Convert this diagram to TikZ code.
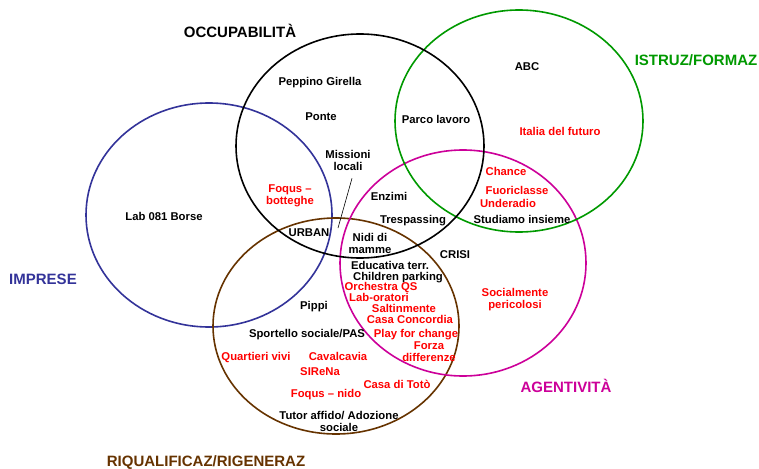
\documentclass[tikz,border=0pt]{standalone}
\usepackage{fontspec}
\setmainfont{Liberation Sans}
\usepackage{tikz}
\usetikzlibrary{calc}
\definecolor{occcol}{RGB}{0,0,0}
\definecolor{istrcol}{RGB}{0,153,0}
\definecolor{imprcol}{RGB}{51,51,153}
\definecolor{agencol}{RGB}{204,0,153}
\definecolor{riqucol}{RGB}{102,51,0}
\definecolor{redtxt}{RGB}{255,0,0}
\tikzset{
x=1pt,
y=-1pt,
venn/.style={line width=1.6pt},
item/.style={%
    anchor=base,
    inner sep=0pt,
    align=center,
    text=black,
    font=\bfseries\fontsize{11.3}{12}\selectfont
},
hot/.style={item, text=redtxt},
title/.style={%
    anchor=base,
    inner sep=0pt,
    font=\bfseries\fontsize{15}{18}\selectfont
},
pointer/.style={line width=0.6pt, draw=black},
}

\begin{document}
\begin{tikzpicture}
			\useasboundingbox (0,0) rectangle (759,468);
			% the five sets
			\draw[venn, imprcol] (209,215) ellipse [x radius=123pt, y radius=112pt];
			\draw[venn, riqucol] (336,326) ellipse [x radius=123pt, y radius=108pt];
			\draw[venn, agencol] (463,263) ellipse [x radius=123pt, y radius=113pt];
			\draw[venn, istrcol] (519,121) ellipse [x radius=124pt, y radius=111pt];
			\draw[venn, occcol] (360,146) ellipse [x radius=124pt, y radius=112pt];

			\node[title, text=occcol] (occ) at (240,38) {OCCUPABILITÀ};
			\node[title, text=istrcol] (istr) at (696,66) {ISTRUZ/FORMAZ};
			\node[title, text=imprcol] (impr) at (43,284) {IMPRESE};
			\node[title, text=agencol] (agen) at (566,392) {AGENTIVITÀ};
			\node[title, text=riqucol] (riqu) at (206,466) {RIQUALIFICAZ/RIGENERAZ};

			% multi-line nodes sit on the baseline of their last line
			\node[item] (peppino) at (320,85) {Peppino Girella};
			\node[item] (ponte) at (321,121) {Ponte};
			\node[item] (parco) at (436,124) {Parco lavoro};
			\node[item] (abc) at (527,71) {ABC};
			\node[hot] (italia) at (560,135) {Italia del futuro};
			\node[item] (missioni) at (348,170) {Missioni\\locali};
			\node[hot] (foqusb) at (290,204) {Foqus --\\botteghe};
			\node[item] (enzimi) at (389,200) {Enzimi};
			\node[item] (tresp) at (413,223) {Trespassing};
			\node[item] (urban) at (309,236) {URBAN};
			\node[item] (nidi) at (370,253) {Nidi di\\mamme};
			\node[item] (crisi) at (455,258) {CRISI};
			\node[hot] (chance) at (506,175) {Chance};
			\node[hot] (fuori) at (517,194) {Fuoriclasse};
			\node[hot] (under) at (508,207) {Underadio};
			\node[item] (studiamo) at (522,223) {Studiamo insieme};
			\node[item] (lab081) at (164,220) {Lab 081 Borse};

			\node[item] (educ) at (390,269) {Educativa terr.};
			\node[item] (children) at (398,280) {Children parking};
			\node[hot] (orch) at (381,290) {Orchestra QS};
			\node[hot] (labor) at (379,301) {Lab-oratori};
			\node[hot] (saltin) at (404,312) {Saltinmente};
			\node[hot] (concordia) at (410,323) {Casa Concordia};
			\node[hot] (play) at (416,337) {Play for change};
			\node[hot] (forza) at (429,361) {Forza\\differenze};
			\node[hot] (social) at (515,308) {Socialmente\\pericolosi};

			\node[item] (pippi) at (314,309) {Pippi};
			\node[item] (sportello) at (307,337) {Sportello sociale/PAS};
			\node[hot] (quartieri) at (256,360) {Quartieri vivi};
			\node[hot] (cavalc) at (338,360) {Cavalcavia};
			\node[hot] (sirena) at (320,375) {SIReNa};
			\node[hot] (toto) at (397,388) {Casa di Totò};
			\node[hot] (foqusn) at (326,397) {Foqus -- nido};
			\node[item] (tutor) at (339,431) {Tutor affido/ Adozione\\sociale};

			\coordinate (urbantip) at (338,228);
			\draw[pointer] ([xshift=4pt, yshift=-8pt]missioni.south) -- (urbantip);
		\end{tikzpicture}
\end{document}
